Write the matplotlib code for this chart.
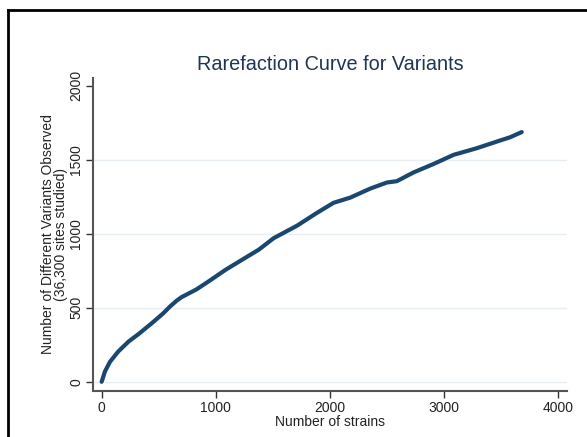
import matplotlib.pyplot as plt
from matplotlib.lines import Line2D

plt.rcParams['font.family'] = ['Liberation Sans', 'DejaVu Sans']

# rarefaction curve
strains = [0, 29, 73, 146, 236, 324, 438, 540, 598, 657, 700, 745, 832, 934,
           1086, 1231, 1377, 1508, 1712, 1887, 2033, 2179, 2354, 2500, 2587,
           2733, 2908, 3084, 3288, 3492, 3580, 3682]
variants = [0, 70, 135, 205, 272, 323, 395, 463, 508, 548, 572, 590, 625, 677,
            757, 825, 893, 971, 1055, 1142, 1210, 1245, 1306, 1347, 1356,
            1415, 1472, 1534, 1579, 1631, 1653, 1688]

x_ticks = [0, 1000, 2000, 3000, 4000]
y_ticks = [0, 500, 1000, 1500, 2000]
grid_levels = [0, 500, 1000, 1500]

fig = plt.figure(figsize=(5.87, 4.37), dpi=100)
ax = fig.add_axes([0.158, 0.105, 0.808, 0.717])

for g in grid_levels:
    ax.axhline(g, color='#e6eef2', lw=1.0, zorder=0)

ax.plot(strains, variants, color='#1a476f', lw=3.0, solid_capstyle='round',
        solid_joinstyle='round')

ax.set_xlim(-78, 4079)
ax.set_ylim(-63, 2055)
ax.set_xticks(x_ticks)
ax.set_yticks(y_ticks)
ax.tick_params(axis='both', direction='out', length=5, width=1, color='#333333',
               labelsize=10, labelcolor='#222222', pad=2)
plt.setp(ax.get_yticklabels(), rotation=90, va='center')

for side in ['top', 'right']:
    ax.spines[side].set_visible(False)
for side in ['left', 'bottom']:
    ax.spines[side].set_color('#555555')
    ax.spines[side].set_linewidth(1.5)

ax.set_xlabel('Number of strains', fontsize=10, color='#222222', labelpad=0)
ax.set_ylabel('Number of Different Variants Observed\n(36,300 sites studied)',
              fontsize=10, color='#222222', labelpad=1, linespacing=0.9)

fig.text(0.562, 0.853, 'Rarefaction Curve for Variants', fontsize=14.3,
         color='#1e3553', ha='center', va='center')

# black frame on the left and top
fig.add_artist(Line2D([0.0135, 0.0135], [0.0, 0.977], color='black', lw=2))
fig.add_artist(Line2D([0.0135, 1.0], [0.977, 0.977], color='black', lw=2))

fig.savefig('out.png', dpi=100)
